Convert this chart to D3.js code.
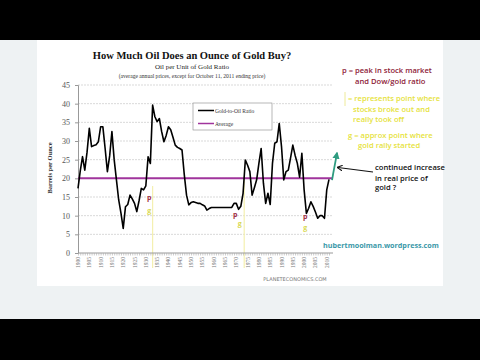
<!DOCTYPE html>
<html>
<head>
<meta charset="utf-8">
<script src="https://cdn.jsdelivr.net/npm/d3@7"></script>
<style>
  html, body { margin: 0; padding: 0; background: #000; }
  svg { display: block; }
</style>
</head>
<body>
<svg id="chart" width="480" height="360"></svg>
<script>
// --- data ---
const years = d3.range(1900, 2012);
const ratio = [
  17.3, 22, 25.8, 22.2, 27, 33.4, 28.5, 28.8, 29, 29.8,
  33.8, 33.8, 28, 21.8, 26, 32.5, 25, 19.6, 14.2, 10.7,
  6.6, 12.4, 13, 15.5, 14.5, 13.3, 11.1, 14, 17.3, 16.9,
  18, 25.8, 24, 39.6, 36.5, 35.2, 36, 32.5, 29.8, 31.5,
  33.8, 33, 31, 28.9, 28.3, 28, 27.6, 21, 15.5, 12.9,
  13.5, 13.7, 13.5, 13.3, 13.3, 12.9, 12.6, 11.5, 11.9, 12.2,
  12.2, 12.2, 12.2, 12.2, 12.2, 12.2, 12.2, 12.2, 12.2, 13.3,
  13.3, 11.7, 12.5, 16, 24.9, 23.5, 21.8, 15.5, 17.5, 19.6,
  24, 28, 18.7, 13.3, 16, 13, 24, 29.4, 29.8, 34.7,
  28.5, 19.6, 21.8, 22.2, 25.5, 28.9, 26.2, 24, 20.3, 26.7,
  16.9, 10.6, 12, 13.7, 12.5, 11, 9.3, 10, 10, 9.3,
  16.9, 19.7
];
const average = 20;
const yTicks = [0, 5, 10, 15, 20, 25, 30, 35, 40, 45];
const xLabels = d3.range(1900, 2011, 5);
const breakoutYears = [1933, 1973.5];           // yellow vertical lines
const peakMarks = [[1931.5, 14.2], [1969.5, 9.6], [2000.5, 9]];   // "p"
const goldMarks = [[1931.5, 10.6], [1971.5, 7.2], [2000.5, 6.2]]; // "g"

const svg = d3.select("#chart");

// page background (video frame)
svg.append("rect").attr("x", 0).attr("y", 40).attr("width", 480).attr("height", 279).attr("fill", "#eef2f3");
svg.append("rect").attr("x", 37).attr("y", 40).attr("width", 406).attr("height", 246).attr("fill", "#ffffff");

const x = d3.scaleLinear().domain([1900, 2011]).range([78, 329]);
const y = d3.scaleLinear().domain([0, 45]).range([253, 85]);
const plotRight = 333;

// titles
svg.append("text").attr("x", 192).attr("y", 59).attr("text-anchor", "middle")
  .style("font", "bold 10.5px 'Liberation Serif'").attr("fill", "#111")
  .text("How Much Oil Does an Ounce of Gold Buy?");
svg.append("text").attr("x", 192).attr("y", 69).attr("text-anchor", "middle")
  .style("font", "7px 'Liberation Serif'").attr("fill", "#222")
  .text("Oil per Unit of Gold Ratio");
svg.append("text").attr("x", 192).attr("y", 77.5).attr("text-anchor", "middle")
  .style("font", "5.6px 'Liberation Serif'").attr("fill", "#333")
  .text("(average annual prices, except for October 11, 2011 ending price)");

// gridlines
svg.append("g").selectAll("line").data(yTicks.slice(1)).join("line")
  .attr("x1", x(1900)).attr("x2", plotRight)
  .attr("y1", d => y(d)).attr("y2", d => y(d))
  .attr("stroke", "#c8c8c8").attr("stroke-width", 0.7).attr("stroke-dasharray", "2,1");

// yellow breakout lines
svg.append("g").selectAll("line").data(breakoutYears).join("line")
  .attr("x1", d => x(d)).attr("x2", d => x(d))
  .attr("y1", (d, i) => i === 0 ? 186 : 176).attr("y2", 268)
  .attr("stroke", "#f4f0b0").attr("stroke-width", 1.2);

// y axis
const yAxis = svg.append("g").attr("transform", `translate(${x(1900)},0)`)
  .call(d3.axisLeft(y).tickValues(yTicks).tickSize(3).tickPadding(5));
yAxis.select(".domain").attr("stroke", "#999");
yAxis.selectAll(".tick line").attr("stroke", "#999");
yAxis.selectAll("text").style("font", "8px 'Liberation Serif'").attr("fill", "#555");

// x axis with minor yearly ticks
const xAxis = svg.append("g").attr("transform", `translate(0,${y(0)})`)
  .call(d3.axisBottom(x).tickValues(years).tickSize(2.5).tickFormat(""));
xAxis.select(".domain").attr("stroke", "#999").attr("d", `M${x(1900)},0H${plotRight}`);
xAxis.selectAll(".tick line").attr("stroke", "#aaa").attr("stroke-width", 0.6);

svg.append("g").selectAll("text").data(xLabels).join("text")
  .attr("transform", d => `translate(${x(d) + 2},${y(0) + 4}) rotate(-90)`)
  .attr("text-anchor", "end")
  .style("font", "5.5px 'Liberation Serif'").attr("fill", "#777")
  .text(d => d);

// y label
svg.append("text").attr("transform", "translate(52,168) rotate(-90)")
  .attr("text-anchor", "middle")
  .style("font", "bold 6.5px 'Liberation Serif'").attr("fill", "#333")
  .text("Barrels per Ounce");

// average line
svg.append("line").attr("x1", x(1900)).attr("x2", plotRight)
  .attr("y1", y(average)).attr("y2", y(average))
  .attr("stroke", "#a0349c").attr("stroke-width", 2);

// ratio line
const line = d3.line().x((d, i) => x(years[i])).y(d => y(d));
svg.append("path").datum(ratio).attr("d", line)
  .attr("fill", "none").attr("stroke", "#000").attr("stroke-width", 1.6)
  .attr("stroke-linejoin", "round");

// legend
const lg = svg.append("g").attr("transform", "translate(193,103)");
lg.append("rect").attr("width", 79).attr("height", 27).attr("fill", "#fff").attr("stroke", "#888").attr("stroke-width", 0.6);
lg.append("line").attr("x1", 5).attr("x2", 21).attr("y1", 7.5).attr("y2", 7.5).attr("stroke", "#000").attr("stroke-width", 1.5);
lg.append("text").attr("x", 22).attr("y", 9.5).style("font", "5.5px 'Liberation Serif'").attr("fill", "#333").text("Gold-to-Oil Ratio");
lg.append("line").attr("x1", 5).attr("x2", 21).attr("y1", 20.5).attr("y2", 20.5).attr("stroke", "#a0349c").attr("stroke-width", 1.5);
lg.append("text").attr("x", 22).attr("y", 22.5).style("font", "5.5px 'Liberation Serif'").attr("fill", "#333").text("Average");

// p / g markers
svg.append("g").selectAll("text").data(peakMarks).join("text")
  .attr("x", d => x(d[0])).attr("y", d => y(d[1]))
  .style("font", "bold 7px 'Open Sans'").attr("fill", "#a02a40").attr("text-anchor", "middle")
  .text("p");
svg.append("g").selectAll("text").data(goldMarks).join("text")
  .attr("x", d => x(d[0])).attr("y", d => y(d[1]))
  .style("font", "bold 7px 'Open Sans'").attr("fill", "#d8d850").attr("text-anchor", "middle")
  .text("g");

// green continuation arrow
svg.append("defs").html(`
  <marker id="gh" viewBox="0 0 10 10" refX="8" refY="5" markerWidth="4" markerHeight="4" orient="auto">
    <path d="M0,0L10,5L0,10z" fill="#2e9c80"/></marker>
  <marker id="bh" viewBox="0 0 10 10" refX="8" refY="5" markerWidth="5" markerHeight="5" orient="auto">
    <path d="M0,0L10,5L0,10" fill="none" stroke="#111" stroke-width="2"/></marker>`);
svg.append("line").attr("x1", x(2011) + 3).attr("y1", y(19.5)).attr("x2", x(2011) + 8).attr("y2", y(26.8))
  .attr("stroke", "#2e9c80").attr("stroke-width", 1.8).attr("marker-end", "url(#gh)");

// annotations
const ann = (tx, ty, str, color, weight) => svg.append("text").attr("x", tx).attr("y", ty)
  .style("font", `${weight || "normal"} 7.6px 'Open Sans'`).attr("fill", color).text(str);
ann(342, 73, "p = peak in stock market", "#8e2238", "600");
ann(355, 84, "and Dow/gold ratio", "#8e2238", "600");
svg.append("line").attr("x1", 345).attr("x2", 345).attr("y1", 92).attr("y2", 106).attr("stroke", "#eeea9a").attr("stroke-width", 1);
ann(348, 101, "= represents point where", "#e6e23c", "600");
ann(353, 111.5, "stocks broke out and", "#e6e23c", "600");
ann(353, 121.5, "really took off", "#e6e23c", "600");
ann(348, 137.5, "g = approx point where", "#e6e23c", "600");
ann(358, 147.5, "gold rally started", "#e6e23c", "600");
ann(375, 170, "continued increase", "#111", "600");
ann(375, 180.5, "in real price of", "#111", "600");
ann(375, 190, "gold ?", "#111", "600");
svg.append("line").attr("x1", 373).attr("y1", 172).attr("x2", 338).attr("y2", 167.5)
  .attr("stroke", "#111").attr("stroke-width", 1.1).attr("marker-end", "url(#bh)");
svg.append("text").attr("x", 323).attr("y", 248).style("font", "bold 7.2px 'Open Sans'").attr("fill", "#3a98a8")
  .text("hubertmoolman.wordpress.com");
svg.append("text").attr("x", 295).attr("y", 281).attr("text-anchor", "middle")
  .style("font", "5px 'DejaVu Sans'").attr("fill", "#777").text("PLANETECONOMICS.COM");
</script>
</body>
</html>
